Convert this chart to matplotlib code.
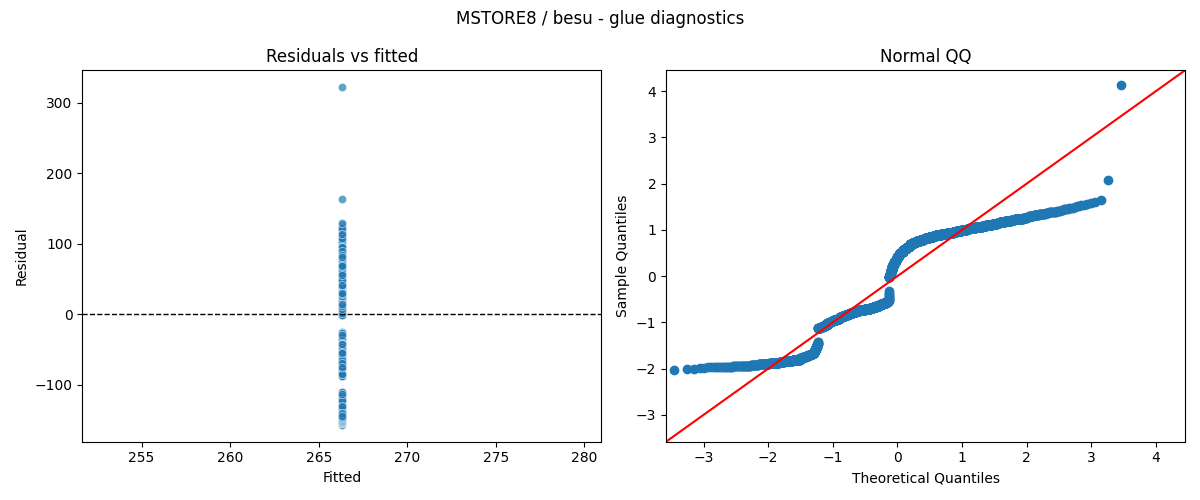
import numpy as np
import matplotlib
matplotlib.use("Agg")
import matplotlib.pyplot as plt
import seaborn as sns
from statistics import NormalDist

# residual levels and how many points sit on each level
resid_levels = [
    -157, -155, -154, -153, -152, -151, -150, -149, -148, -147, -146,
    -145, -144, -143, -142, -141, -140, -138, -136, -134, -132, -130,
    -128, -125, -122, -119, -116, -113, -110,
    -87, -85, -83, -81, -79, -77, -75,
    -73, -71, -69, -67, -65, -63, -61,
    -59, -58, -57, -56, -55, -54, -53,
    -52, -51, -50, -49, -48, -47, -46, -45,
    -44, -43, -42, -39, -36, -33, -30, -27, -25,
    -1, 2, 5, 8, 11, 14, 17,
    20, 22, 24, 26, 28, 30, 32, 34, 36, 38,
    40, 42, 44, 46, 48, 50, 52, 54, 56,
    57, 58, 59, 60, 61, 62, 63, 64, 65, 66, 67,
    68, 69, 70, 71, 72, 73, 74, 75,
    76, 77, 78, 79, 80, 81, 82, 83, 84, 85, 86,
    87, 88, 89, 90, 91, 92, 93, 94, 95, 96, 97,
    98, 99, 100, 101, 102, 103, 104, 105, 106, 107, 108, 109,
    110, 111, 112, 113, 114, 115, 116, 117, 118, 119, 120, 121, 122,
    124, 126, 129, 163, 322,
]
resid_counts = [
    1, 2, 2, 7, 7, 7, 15, 15, 15, 14, 14,
    22, 22, 22, 23, 24, 24, 22, 22, 22, 20, 20,
    14, 11, 9, 7, 5, 4, 2,
    26, 26, 27, 27, 27, 27, 26,
    43, 43, 43, 43, 43, 43, 44,
    55, 55, 55, 55, 55, 55, 56,
    32, 32, 32, 32, 32, 32, 32, 31,
    30, 30, 21, 2, 2, 2, 1, 1, 1,
    12, 12, 12, 12, 13, 13, 13,
    16, 16, 16, 16, 16, 16, 16, 16, 15, 15,
    32, 32, 32, 32, 32, 32, 31, 31, 31,
    37, 37, 37, 37, 37, 37, 37, 37, 38, 38, 38,
    50, 50, 50, 50, 49, 49, 49, 49,
    35, 35, 35, 35, 34, 34, 34, 34, 34, 34, 34,
    17, 17, 17, 17, 16, 16, 16, 16, 16, 16, 16,
    6, 6, 6, 6, 6, 6, 6, 6, 6, 5, 5, 5,
    2, 2, 2, 2, 2, 2, 1, 1, 1, 1, 1, 1, 1,
    1, 1, 1, 1, 1,
]
fitted_value = 266.3

resid = np.repeat(resid_levels, resid_counts).astype(float)
fitted = np.full(len(resid), fitted_value)
n = len(resid)

# draw the scatter in a mixed (not sorted) order, like the raw rows
order = (np.arange(n) * 1013) % n

# QQ: standardised residuals vs normal quantiles
sample_q = np.sort((resid - resid.mean()) / resid.std())
nd = NormalDist()
theo_q = np.array([nd.inv_cdf(i / (n + 1)) for i in range(1, n + 1)])

fig, (ax1, ax2) = plt.subplots(1, 2, figsize=(12, 5))

sns.scatterplot(x=fitted[order], y=resid[order], alpha=0.7, ax=ax1)
ax1.axhline(0, color='black', linestyle='--', linewidth=1)
ax1.set_title("Residuals vs fitted")
ax1.set_xlabel("Fitted")
ax1.set_ylabel("Residual")

ax2.plot(theo_q, sample_q, marker='o', linestyle='none', color='C0')
lo, hi = -3.58, 4.45
ax2.plot([lo, hi], [lo, hi], 'r')
ax2.set_xlim(lo, hi)
ax2.set_ylim(lo, hi)
ax2.set_title("Normal QQ")
ax2.set_xlabel("Theoretical Quantiles")
ax2.set_ylabel("Sample Quantiles")

fig.suptitle("MSTORE8 / besu - glue diagnostics")
plt.tight_layout()
plt.savefig("out.png", dpi=100)
